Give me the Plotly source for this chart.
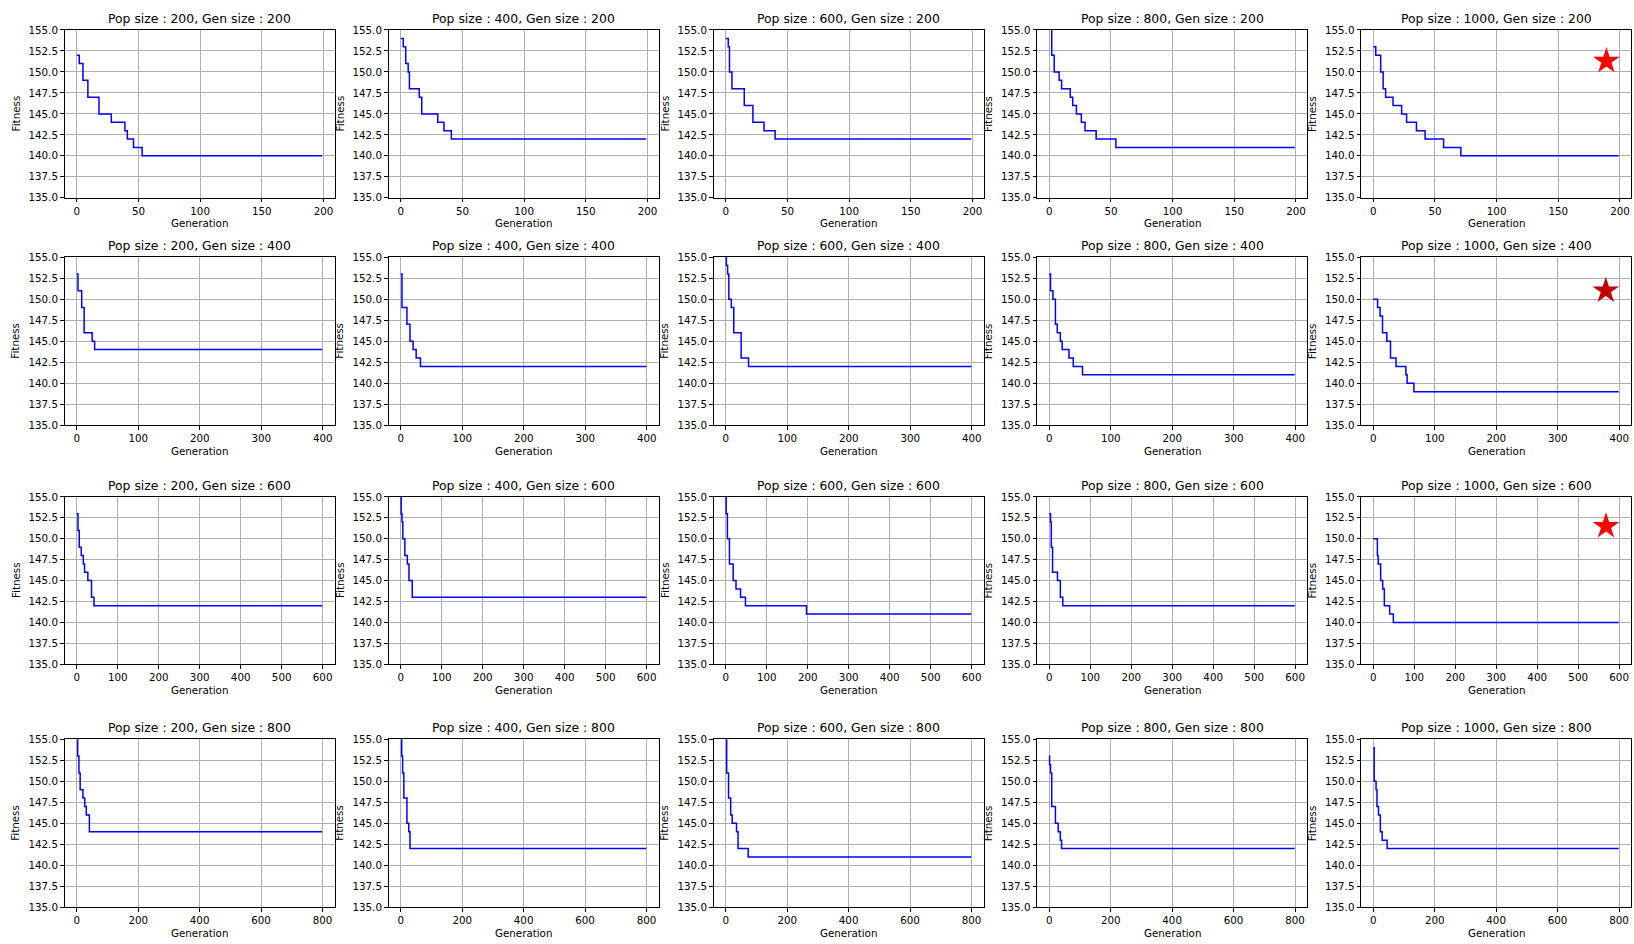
import plotly.graph_objects as go

W, H = 1634, 944

pop_sizes = [200, 400, 600, 800, 1000]
gen_sizes = [200, 400, 600, 800]

# ---- data: generation at which best fitness changes, and the fitness value ----
gen_p200_g200 = [0, 2, 5, 9, 18, 28, 39, 41, 46, 53, 199]
fit_p200_g200 = [152, 151, 149, 147, 145, 144, 143, 142, 141, 140, 140]
gen_p400_g200 = [0, 2, 4, 6, 7, 15, 17, 30, 35, 41, 199]
fit_p400_g200 = [154, 153, 151, 150, 148, 147, 145, 144, 143, 142, 142]
gen_p600_g200 = [0, 2, 3, 5, 15, 22, 31, 40, 199]
fit_p600_g200 = [154, 153, 150, 148, 146, 144, 143, 142, 142]
gen_p800_g200 = [0, 2, 4, 8, 10, 17, 19, 22, 26, 29, 38, 54, 199]
fit_p800_g200 = [157, 152, 150, 149, 148, 147, 146, 145, 144, 143, 142, 141, 141]
gen_p1000_g200 = [0, 2, 6, 8, 10, 16, 23, 27, 35, 42, 57, 71, 199]
fit_p1000_g200 = [153, 152, 150, 148, 147, 146, 145, 144, 143, 142, 141, 140, 140]

gen_p200_g400 = [0, 2, 8, 12, 25, 29, 399]
fit_p200_g400 = [153, 151, 149, 146, 145, 144, 144]
gen_p400_g400 = [0, 2, 10, 15, 20, 25, 32, 399]
fit_p400_g400 = [153, 149, 147, 145, 144, 143, 142, 142]
gen_p600_g400 = [0, 1, 3, 5, 9, 13, 25, 37, 399]
fit_p600_g400 = [156, 154, 153, 150, 149, 146, 143, 142, 142]
gen_p800_g400 = [0, 2, 6, 10, 13, 18, 21, 32, 39, 54, 399]
fit_p800_g400 = [153, 151, 150, 147, 146, 145, 144, 143, 142, 141, 141]
gen_p1000_g400 = [0, 7, 11, 15, 22, 28, 37, 53, 55, 66, 399]
fit_p1000_g400 = [150, 149, 148, 146, 145, 143, 142, 141, 140, 139, 139]

gen_p200_g600 = [0, 3, 6, 11, 16, 19, 27, 36, 42, 599]
fit_p200_g600 = [153, 151, 149, 148, 147, 146, 145, 143, 142, 142]
gen_p400_g600 = [0, 1, 3, 5, 10, 16, 20, 28, 599]
fit_p400_g600 = [157, 153, 152, 150, 148, 147, 145, 143, 143]
gen_p600_g600 = [0, 1, 4, 9, 18, 25, 36, 48, 197, 599]
fit_p600_g600 = [157, 153, 150, 147, 145, 144, 143, 142, 141, 141]
gen_p800_g600 = [0, 3, 5, 8, 20, 27, 33, 599]
fit_p800_g600 = [153, 152, 149, 146, 145, 143, 142, 142]
gen_p1000_g600 = [0, 10, 12, 18, 23, 27, 40, 49, 599]
fit_p1000_g600 = [150, 148, 147, 145, 144, 142, 141, 140, 140]

gen_p200_g800 = [0, 3, 7, 11, 20, 26, 31, 41, 799]
fit_p200_g800 = [157, 153, 151, 149, 148, 147, 146, 144, 144]
gen_p400_g800 = [0, 3, 6, 10, 20, 26, 30, 799]
fit_p400_g800 = [157, 153, 151, 148, 145, 144, 142, 142]
gen_p600_g800 = [0, 3, 9, 16, 21, 35, 40, 73, 799]
fit_p600_g800 = [157, 151, 148, 146, 145, 144, 142, 141, 141]
gen_p800_g800 = [0, 1, 4, 8, 20, 29, 36, 40, 799]
fit_p800_g800 = [153, 152, 151, 147, 145, 144, 143, 142, 142]
gen_p1000_g800 = [0, 3, 9, 12, 17, 23, 29, 45, 799]
fit_p1000_g800 = [154, 150, 149, 147, 146, 144, 143, 142, 142]

# star markers (row = gen size index, position in data units, colour)
star_rows = [0, 1, 2]
star_x = [189, 378, 568]
star_y = [151.3, 151.0, 151.5]
star_colors = ["#ff0000", "#c00000", "#ff0000"]

panels = {
    (200, 200): (gen_p200_g200, fit_p200_g200), (400, 200): (gen_p400_g200, fit_p400_g200),
    (600, 200): (gen_p600_g200, fit_p600_g200), (800, 200): (gen_p800_g200, fit_p800_g200),
    (1000, 200): (gen_p1000_g200, fit_p1000_g200),
    (200, 400): (gen_p200_g400, fit_p200_g400), (400, 400): (gen_p400_g400, fit_p400_g400),
    (600, 400): (gen_p600_g400, fit_p600_g400), (800, 400): (gen_p800_g400, fit_p800_g400),
    (1000, 400): (gen_p1000_g400, fit_p1000_g400),
    (200, 600): (gen_p200_g600, fit_p200_g600), (400, 600): (gen_p400_g600, fit_p400_g600),
    (600, 600): (gen_p600_g600, fit_p600_g600), (800, 600): (gen_p800_g600, fit_p800_g600),
    (1000, 600): (gen_p1000_g600, fit_p1000_g600),
    (200, 800): (gen_p200_g800, fit_p200_g800), (400, 800): (gen_p400_g800, fit_p400_g800),
    (600, 800): (gen_p600_g800, fit_p600_g800), (800, 800): (gen_p800_g800, fit_p800_g800),
    (1000, 800): (gen_p1000_g800, fit_p1000_g800),
}

# ---- layout geometry (pixels) ----
col_left = [64.5, 388.5, 713.5, 1037.0, 1361.0]
col_w = 270.0
row_top = [24.3, 254.3, 497.3, 742.7]
row_bot = [194.3, 424.7, 666.7, 913.0]
x_dtick = {200: 50, 400: 100, 600: 100, 800: 200}

FONT = "DejaVu Sans"
TXT = "#000000"

fig = go.Figure()
layout = dict(
    width=W, height=H, margin=dict(l=0, r=0, t=0, b=0),
    paper_bgcolor="white", plot_bgcolor="white", showlegend=False,
    font=dict(family=FONT, size=10.3, color=TXT),
)
annotations = []

idx = 0
for r, g in enumerate(gen_sizes):
    for c, p in enumerate(pop_sizes):
        idx += 1
        sfx = "" if idx == 1 else str(idx)
        xs, ys = panels[(p, g)]
        fig.add_trace(go.Scatter(
            x=xs, y=ys, mode="lines", line=dict(color="#0000ff", width=1.5, shape="hv"),
            xaxis="x" + sfx, yaxis="y" + sfx, hoverinfo="x+y",
        ))
        x0 = col_left[c] / W
        x1 = (col_left[c] + col_w) / W
        y0 = 1 - row_bot[r] / H
        y1 = 1 - row_top[r] / H
        last = g - 1
        axis_common = dict(
            showline=True, mirror=True, linecolor="#000000", linewidth=1,
            showgrid=True, gridcolor="#b0b0b0", gridwidth=0.8,
            ticks="outside", ticklen=3.5, tickwidth=0.8, tickcolor="#000000",
            zeroline=False, tickfont=dict(family=FONT, size=10.3, color=TXT),
        )
        layout["xaxis" + sfx] = dict(
            domain=[x0, x1], anchor="y" + sfx,
            range=[-0.05 * last, last * 1.05], tickmode="linear", tick0=0, dtick=x_dtick[g],
            **axis_common,
        )
        layout["yaxis" + sfx] = dict(
            domain=[y0, y1], anchor="x" + sfx,
            range=[135, 155], tickmode="linear", tick0=135, dtick=2.5, tickformat=".1f",
            **axis_common,
        )
        # title
        annotations.append(dict(
            text=f"Pop size : {p}, Gen size : {g}", xref="paper", yref="paper",
            x=(x0 + x1) / 2, y=y1, xanchor="center", yanchor="middle", yshift=11.8,
            showarrow=False, font=dict(family=FONT, size=12.4, color=TXT),
        ))
        # x label
        annotations.append(dict(
            text="Generation", xref="paper", yref="paper",
            x=(x0 + x1) / 2, y=y0, xanchor="center", yanchor="middle", yshift=-25.6,
            showarrow=False, font=dict(family=FONT, size=10.3, color=TXT),
        ))
        # y label
        annotations.append(dict(
            text="Fitness", xref="paper", yref="paper", textangle=-90,
            x=x0, y=(y0 + y1) / 2, xanchor="center", yanchor="middle", xshift=-49,
            showarrow=False, font=dict(family=FONT, size=10.3, color=TXT),
        ))

# stars in the Pop size 1000 column
for sr, sx, sy, sc in zip(star_rows, star_x, star_y, star_colors):
    pidx = sr * len(pop_sizes) + len(pop_sizes)
    sfx = "" if pidx == 1 else str(pidx)
    fig.add_trace(go.Scatter(
        x=[sx], y=[sy], mode="markers",
        marker=dict(symbol="star", size=20, color=sc, line=dict(width=0)),
        xaxis="x" + sfx, yaxis="y" + sfx, hoverinfo="skip",
    ))

layout["annotations"] = annotations
fig.update_layout(**layout)
fig.write_html("out.html")
